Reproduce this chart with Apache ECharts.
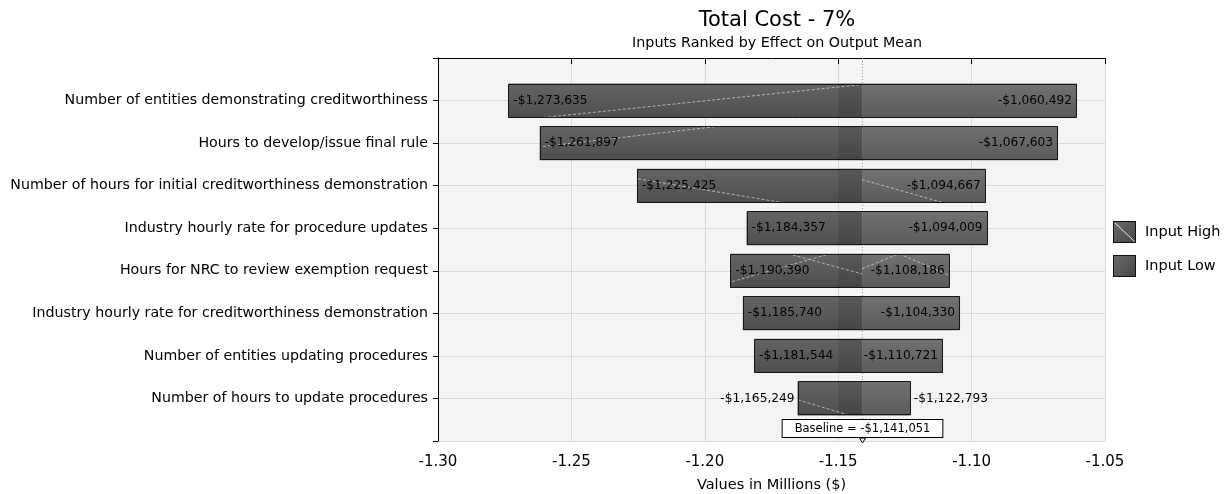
<!DOCTYPE html>
<html>
<head>
<meta charset="utf-8">
<script src="https://cdn.jsdelivr.net/npm/echarts@6/dist/echarts.min.js"></script>
<style>
  html, body { margin: 0; padding: 0; background: #fff; }
  #chart { width: 1230px; height: 494px; }
</style>
</head>
<body>
<div id="chart"></div>
<script>
// Inputs, ranked top to bottom by effect on the output mean
const inputNames = [
  'Number of entities demonstrating creditworthiness',
  'Hours to develop/issue final rule',
  'Number of hours for initial creditworthiness demonstration',
  'Industry hourly rate for procedure updates',
  'Hours for NRC to review exemption request',
  'Industry hourly rate for creditworthiness demonstration',
  'Number of entities updating procedures',
  'Number of hours to update procedures'
];
// Output mean ($) at the input's high setting (left end of each bar)
const inputHighCost = [-1273635, -1261897, -1225425, -1184357, -1190390, -1185740, -1181544, -1165249];
// Output mean ($) at the input's low setting (right end of each bar)
const inputLowCost = [-1060492, -1067603, -1094667, -1094009, -1108186, -1104330, -1110721, -1122793];
// Baseline output mean ($)
const baselineCost = -1141051;
// Axis ticks, in millions of dollars
const xTicks = [-1.30, -1.25, -1.20, -1.15, -1.10, -1.05];

// ---- drawing styles ----
const FONT = '"DejaVu Sans", Verdana, sans-serif';
const shadeFrom = -1.15;            // darker band from this gridline up to the baseline
// faint white texture strokes: [value in millions, fraction of bar height]
const hatchTrace = {
  0: [[[-1.2606, 1.0], [-1.1411, 0.03]]],
  1: [[[-1.2606, 0.6], [-1.1943, 0.0]]],
  2: [[[-1.2250, 0.3], [-1.1707, 1.0]], [[-1.1411, 0.32], [-1.1107, 1.0]]],
  4: [[[-1.1898, 0.82], [-1.1531, 0.0]], [[-1.1688, 0.0], [-1.1411, 0.59]],
      [[-1.1411, 0.44], [-1.1272, 0.0], [-1.1088, 0.62]]],
  7: [[[-1.1651, 0.54], [-1.1456, 1.0]]]
};

const M = 1e6;
const baseM = baselineCost / M;
const money = v => '-$' + Math.abs(v).toLocaleString('en-US');

const rows = inputNames.map((n, i) => [i + 1, inputHighCost[i] / M, inputLowCost[i] / M, i]);

const LABEL_SIZE = 12.2;
const measureCtx = document.createElement('canvas').getContext('2d');
function textWidth(t, size) {
  measureCtx.font = size + 'px ' + FONT;
  return measureCtx.measureText(t).width;
}

const highFill = new echarts.graphic.LinearGradient(0, 0, 0, 1, [
  { offset: 0, color: '#646464' }, { offset: 1, color: '#4e4e4e' }
]);
const lowFill = new echarts.graphic.LinearGradient(0, 0, 0, 1, [
  { offset: 0, color: '#727272' }, { offset: 1, color: '#5a5a5a' }
]);

function barBox(api, a, b, i) {
  const p0 = api.coord([a, i]);
  const p1 = api.coord([b, i]);
  const h = api.size([0, 1])[1] * 0.8;
  return { x: p0[0], y: p0[1] - h / 2, width: p1[0] - p0[0], height: h };
}

function segmentRender(side) {
  return function (params, api) {
    const i = api.value(0), hi = api.value(1), lo = api.value(2);
    const box = side === 'high' ? barBox(api, hi, baseM, i) : barBox(api, baseM, lo, i);
    return { type: 'rect', shape: box, style: { fill: side === 'high' ? highFill : lowFill } };
  };
}

function frameRender(params, api) {
  const i = api.value(0), hi = api.value(1), lo = api.value(2), k = api.value(3);
  const box = barBox(api, hi, lo, i);
  const h = box.height;
  const children = [];
  // darker band near the baseline
  const s0 = Math.max(hi, shadeFrom);
  const sb = barBox(api, s0, baseM, i);
  children.push({ type: 'rect', shape: sb, style: { fill: 'rgba(0,0,0,0.11)' } });
  // texture strokes
  (hatchTrace[k] || []).forEach(tr => {
    const pts = tr.map(p => [api.coord([p[0], i])[0], box.y + p[1] * h]);
    children.push({
      type: 'polyline', shape: { points: pts },
      style: { stroke: 'rgba(255,255,255,0.8)', lineWidth: 0.7, lineDash: [3, 2], fill: null }
    });
  });
  // outline
  const x0 = Math.round(box.x) + 0.5, y0 = Math.round(box.y) + 0.5;
  const x1 = Math.round(box.x + box.width) - 0.5, y1 = Math.round(box.y + box.height) - 0.5;
  children.push({
    type: 'rect', shape: { x: x0, y: y0, width: x1 - x0, height: y1 - y0 },
    style: { fill: null, stroke: '#161616', lineWidth: 1 }
  });
  // end labels
  const tl = money(inputHighCost[k]), tr = money(inputLowCost[k]);
  const wl = textWidth(tl, LABEL_SIZE), wr = textWidth(tr, LABEL_SIZE);
  const cy = box.y + h / 2;
  const inside = box.width >= wl + wr + 12;
  children.push({
    type: 'text',
    style: {
      text: tl, x: inside ? box.x + 5 : box.x - 3, y: cy,
      align: inside ? 'left' : 'right', verticalAlign: 'middle',
      font: LABEL_SIZE + 'px ' + FONT, fill: '#000'
    }
  });
  children.push({
    type: 'text',
    style: {
      text: tr, x: inside ? box.x + box.width - 5 : box.x + box.width + 3, y: cy,
      align: inside ? 'right' : 'left', verticalAlign: 'middle',
      font: LABEL_SIZE + 'px ' + FONT, fill: '#000'
    }
  });
  return { type: 'group', children };
}

function baselineRender(params, api) {
  const top = api.coord([baseM, 0]);
  const bot = api.coord([baseM, 9]);
  const x = Math.round(top[0]) + 0.5;
  return {
    type: 'group',
    children: [
      { type: 'line', shape: { x1: x, y1: top[1], x2: x, y2: bot[1] },
        style: { stroke: '#9a9a9a', lineWidth: 1, lineDash: [1, 2] } },
      { type: 'text', z2: 10,
        style: {
          text: 'Baseline = ' + money(baselineCost), x: x, y: bot[1] - 4,
          align: 'center', verticalAlign: 'bottom',
          font: '11.5px ' + FONT, fill: '#000',
          backgroundColor: '#fff', borderColor: '#000', borderWidth: 1,
          padding: [3, 12, 2, 12]
        } },
      { type: 'polygon', z2: 11,
        shape: { points: [[x - 3, bot[1] - 3], [x + 3, bot[1] - 3], [x, bot[1] + 2]] },
        style: { fill: '#fff', stroke: '#000', lineWidth: 1 } }
    ]
  };
}

function iconSvg(withStroke) {
  const svg = "<svg xmlns='http://www.w3.org/2000/svg' width='23' height='22'>" +
    "<defs><linearGradient id='g' x1='0' y1='0' x2='1' y2='1'>" +
    "<stop offset='0' stop-color='#6c6c6c'/><stop offset='1' stop-color='#464646'/></linearGradient></defs>" +
    "<rect x='0.5' y='0.5' width='22' height='21' fill='url(#g)' stroke='#111'/>" +
    (withStroke ? "<line x1='2' y1='2' x2='21.5' y2='20.5' stroke='#fff' stroke-width='0.9'/>" : '') +
    "</svg>";
  return 'image://data:image/svg+xml;charset=utf-8,' + encodeURIComponent(svg);
}

const chart = echarts.init(document.getElementById('chart'), null, { renderer: 'canvas' });
chart.setOption({
  animation: false,
  backgroundColor: '#fff',
  textStyle: { fontFamily: FONT },
  title: {
    text: 'Total Cost - 7%',
    subtext: 'Inputs Ranked by Effect on Output Mean',
    left: 772, top: 5, textAlign: 'center', itemGap: 5,
    textStyle: { fontSize: 21, fontWeight: 'normal', color: '#000', fontFamily: FONT },
    subtextStyle: { fontSize: 14.3, color: '#000', fontFamily: FONT }
  },
  legend: {
    orient: 'vertical', left: 1113, top: 221, padding: 0,
    itemWidth: 23, itemHeight: 22, itemGap: 12,
    textStyle: { fontSize: 14.5, color: '#000', fontFamily: FONT, padding: [0, 0, 0, 4] },
    data: [
      { name: 'Input High', icon: iconSvg(true) },
      { name: 'Input Low', icon: iconSvg(false) }
    ]
  },
  grid: {
    left: 438, top: 58, width: 667, height: 383,
    show: true, backgroundColor: '#f4f4f4', borderWidth: 0,
    outerBoundsMode: 'none'
  },
  xAxis: {
    type: 'value',
    min: xTicks[0], max: xTicks[xTicks.length - 1], interval: 0.05,
    name: 'Values in Millions ($)', nameLocation: 'middle', nameGap: 37,
    nameTextStyle: { fontSize: 14.5, color: '#000', fontFamily: FONT },
    axisLine: { show: true, lineStyle: { color: '#000', width: 1 } },
    axisTick: { show: true, length: 6, lineStyle: { color: '#000' } },
    axisLabel: { fontSize: 15, color: '#000', margin: 14, formatter: v => v.toFixed(2) },
    splitLine: { show: true, lineStyle: { color: '#d9d9d9', width: 1 } }
  },
  yAxis: {
    type: 'value', inverse: true, min: 0, max: 9, interval: 1,
    axisLine: { show: true, lineStyle: { color: '#000', width: 1 } },
    axisTick: { show: true, length: 5, lineStyle: { color: '#000' } },
    axisLabel: { fontSize: 14.2, color: '#000', margin: 10,
                 formatter: v => inputNames[v - 1] || '' },
    splitLine: { show: true, lineStyle: { color: '#d9d9d9', width: 1 } }
  },
  series: [
    { name: 'baseline', type: 'custom', z: 1, clip: false,
      data: [[baseM, 9]], renderItem: baselineRender, silent: true },
    { name: 'Input High', type: 'custom', z: 2, data: rows,
      itemStyle: { color: '#555' }, renderItem: segmentRender('high') },
    { name: 'Input Low', type: 'custom', z: 2, data: rows,
      itemStyle: { color: '#666' }, renderItem: segmentRender('low') },
    { name: 'frame', type: 'custom', z: 3, data: rows, clip: false,
      renderItem: frameRender, silent: true }
  ]
});
</script>
</body>
</html>
